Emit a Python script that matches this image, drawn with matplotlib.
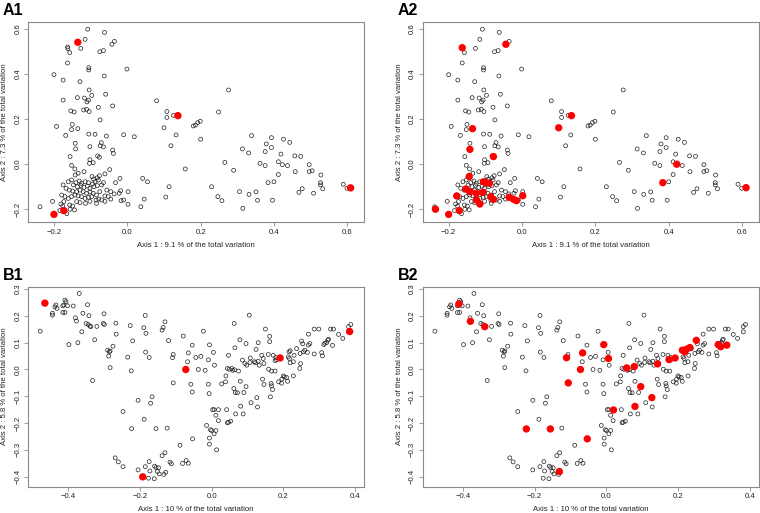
import matplotlib
matplotlib.use("Agg")
import matplotlib.pyplot as plt

plt.rcParams['font.family'] = ['Liberation Sans', 'DejaVu Sans']

# ---------------- data: PCoA of dataset A (shared by A1 and A2) ----------------
a_points = [
    (-0.108, 0.599), (-0.062, 0.585), (-0.115, 0.554), (-0.163, 0.520), (-0.162, 0.513), (-0.127, 0.514),
    (-0.035, 0.545), (-0.042, 0.532), (-0.065, 0.504), (-0.075, 0.499), (-0.157, 0.495), (-0.163, 0.449),
    (-0.105, 0.428), (-0.105, 0.418), (-0.001, 0.422), (-0.200, 0.397), (-0.063, 0.391), (-0.175, 0.373),
    (-0.129, 0.366), (-0.104, 0.329), (-0.097, 0.305), (-0.059, 0.310), (-0.136, 0.295), (-0.117, 0.293),
    (-0.106, 0.284), (-0.110, 0.276), (-0.175, 0.284), (0.080, 0.281), (-0.154, 0.236), (-0.145, 0.231),
    (-0.119, 0.240), (-0.111, 0.243), (-0.104, 0.233), (-0.079, 0.252), (-0.040, 0.258), (0.108, 0.233),
    (0.108, 0.207), (-0.074, 0.196), (-0.193, 0.167), (-0.150, 0.176), (-0.152, 0.153), (-0.135, 0.157),
    (0.100, 0.161), (-0.168, 0.127), (-0.105, 0.133), (-0.088, 0.132), (-0.057, 0.124), (-0.010, 0.130),
    (0.019, 0.121), (-0.142, 0.092), (-0.071, 0.095), (-0.074, 0.081), (-0.065, 0.076), (-0.102, 0.077),
    (-0.040, 0.062), (-0.038, 0.047), (-0.141, 0.067), (-0.156, 0.033), (-0.081, 0.036), (-0.076, 0.030),
    (-0.102, 0.019), (-0.093, 0.006), (-0.103, 0.003), (-0.152, -0.006), (-0.143, -0.022), (-0.048, -0.025),
    (-0.118, -0.034), (-0.134, -0.041), (-0.142, -0.049), (-0.061, -0.044), (-0.076, -0.052), (-0.082, -0.061),
    (-0.096, -0.056), (-0.092, -0.067), (-0.020, -0.064), (-0.032, -0.083), (0.042, -0.064), (0.055, -0.079),
    (0.002, -0.123), (-0.018, -0.119), (-0.022, -0.130), (-0.036, -0.133), (0.046, -0.156), (0.105, -0.147),
    (-0.010, -0.160), (-0.017, -0.163), (0.002, -0.179), (0.037, -0.190), (-0.204, -0.166), (-0.238, -0.190),
    (-0.184, -0.207), (-0.156, -0.201), (-0.144, -0.204), (-0.165, -0.221), (-0.181, -0.178), (-0.176, -0.187),
    (-0.157, -0.182), (-0.149, -0.187),
    (-0.161, -0.079), (-0.152, -0.071), (-0.140, -0.083), (-0.131, -0.076), (-0.125, -0.086), (-0.115, -0.079),
    (-0.106, -0.083), (-0.095, -0.089), (-0.088, -0.079), (-0.079, -0.071), (-0.065, -0.083), (-0.147, -0.093),
    (-0.136, -0.101), (-0.127, -0.095), (-0.118, -0.104), (-0.109, -0.098), (-0.102, -0.108), (-0.091, -0.101),
    (-0.082, -0.096), (-0.070, -0.093), (-0.175, -0.093), (-0.167, -0.108), (-0.158, -0.116), (-0.149, -0.120),
    (-0.138, -0.123), (-0.129, -0.116), (-0.120, -0.123), (-0.111, -0.130), (-0.102, -0.124), (-0.093, -0.130),
    (-0.084, -0.138), (-0.075, -0.123), (-0.061, -0.142), (-0.052, -0.145), (-0.045, -0.156), (-0.070, -0.160),
    (-0.078, -0.156), (-0.085, -0.160), (-0.097, -0.145), (-0.106, -0.148), (-0.115, -0.153), (-0.125, -0.145),
    (-0.134, -0.142), (-0.143, -0.138), (-0.152, -0.145), (-0.161, -0.153), (-0.170, -0.145), (-0.179, -0.138),
    (-0.173, -0.167), (-0.138, -0.167), (-0.129, -0.172), (-0.114, -0.175), (-0.102, -0.166), (-0.084, -0.175),
    (-0.061, -0.166), (-0.045, -0.123), (-0.056, -0.116),
    (0.126, 0.216), (0.133, 0.129), (0.119, 0.081), (0.158, -0.022), (0.114, -0.101), (0.276, 0.329),
    (0.249, 0.231), (0.180, 0.169), (0.186, 0.173), (0.192, 0.184), (0.199, 0.190), (0.200, 0.110),
    (0.230, -0.101), (0.266, 0.007), (0.290, -0.028), (0.247, -0.145), (0.258, -0.163), (0.306, -0.123),
    (0.315, -0.197), (0.332, -0.135), (0.351, -0.124), (0.355, -0.161), (0.314, 0.067), (0.331, 0.049),
    (0.339, 0.126), (0.362, 0.003), (0.376, -0.007), (0.376, 0.055), (0.379, 0.089), (0.393, 0.117),
    (0.393, 0.073), (0.396, -0.161), (0.384, -0.083), (0.400, -0.079), (0.412, -0.047), (0.412, 0.010),
    (0.423, -0.003), (0.437, -0.007), (0.419, 0.044), (0.426, 0.110), (0.443, 0.096), (0.457, 0.036),
    (0.473, 0.034), (0.458, -0.034), (0.496, -0.003), (0.496, -0.034), (0.504, -0.030), (0.468, -0.126),
    (0.477, -0.110), (0.508, -0.130), (0.528, -0.049), (0.527, -0.083), (0.527, -0.093), (0.533, -0.110),
    (0.589, -0.090), (0.599, -0.108),
]

a1_red = [(-0.135, 0.541), (0.138, 0.215), (-0.173, -0.207), (-0.200, -0.224), (0.609, -0.106)]

a2_red = [
    (-0.163, 0.517), (-0.044, 0.532), (-0.135, 0.157), (-0.142, 0.065), (-0.078, 0.033), (0.100, 0.161),
    (0.135, 0.215), (-0.236, -0.201), (-0.200, -0.224), (-0.171, -0.207), (-0.178, -0.142), (-0.153, -0.111),
    (-0.144, -0.056), (-0.142, -0.123), (-0.125, -0.130), (-0.124, -0.160), (-0.115, -0.178), (-0.107, -0.126),
    (-0.105, -0.079), (-0.098, -0.083), (-0.089, -0.086), (-0.085, -0.145), (-0.078, -0.157), (-0.035, -0.148),
    (-0.023, -0.157), (-0.015, -0.163), (0.002, -0.141), (0.422, -0.001), (0.384, -0.083), (0.611, -0.105),
]

# ---------------- data: PCoA of dataset B (shared by B1 and B2) ----------------
b_points = [
    (-0.478, 0.143), (-0.369, 0.284), (-0.409, 0.259), (-0.406, 0.253), (-0.434, 0.241), (-0.437, 0.234),
    (-0.431, 0.228), (-0.415, 0.238), (-0.412, 0.241), (-0.402, 0.238), (-0.386, 0.237), (-0.346, 0.242),
    (-0.444, 0.210), (-0.444, 0.203), (-0.415, 0.213), (-0.409, 0.213), (-0.380, 0.193), (-0.377, 0.181),
    (-0.359, 0.210), (-0.342, 0.201), (-0.350, 0.172), (-0.344, 0.168), (-0.339, 0.162), (-0.337, 0.160),
    (-0.320, 0.161), (-0.300, 0.208), (-0.302, 0.172), (-0.299, 0.168), (-0.267, 0.173), (-0.266, 0.132),
    (-0.362, 0.141), (-0.398, 0.093), (-0.373, 0.100), (-0.326, 0.111), (-0.275, 0.087), (-0.290, 0.072),
    (-0.285, 0.066), (-0.283, 0.069), (-0.287, 0.050), (-0.283, 0.007), (-0.332, -0.041), (-0.227, 0.164),
    (-0.220, 0.107), (-0.234, 0.046), (-0.224, -0.005), (-0.185, 0.202), (-0.189, 0.156), (-0.183, 0.135),
    (-0.184, 0.065), (-0.174, 0.045), (-0.130, 0.178), (-0.135, 0.157), (-0.138, 0.147), (-0.120, 0.108),
    (-0.107, 0.056), (-0.109, 0.044), (-0.079, 0.125), (-0.054, 0.091), (-0.065, 0.062), (-0.067, 0.029),
    (-0.044, 0.045), (-0.037, 0.000), (-0.107, -0.050), (-0.058, -0.055), (-0.054, -0.084), (-0.205, -0.115),
    (-0.166, -0.102), (-0.170, -0.126), (-0.247, -0.157), (-0.188, -0.186), (-0.223, -0.221), (-0.155, -0.221),
    (-0.124, -0.219), (-0.053, -0.259), (-0.088, -0.283), (-0.269, -0.330), (-0.260, -0.345), (-0.247, -0.363),
    (-0.205, -0.375), (-0.185, -0.363), (-0.174, -0.344), (-0.159, -0.361), (-0.155, -0.366), (-0.148, -0.367),
    (-0.172, -0.379), (-0.151, -0.381), (-0.146, -0.390), (-0.133, -0.392), (-0.128, -0.384), (-0.138, -0.322),
    (-0.130, -0.311), (-0.116, -0.346), (-0.112, -0.352), (-0.160, -0.408), (-0.176, -0.406), (-0.081, -0.351),
    (-0.071, -0.340), (-0.065, -0.350),
    (-0.023, 0.143), (-0.006, 0.092), (0.005, 0.064), (-0.030, 0.049), (-0.009, 0.036), (0.008, 0.016),
    (-0.018, -0.003), (-0.009, -0.055), (-0.007, -0.090), (0.003, -0.150), (0.007, -0.150), (0.019, -0.150),
    (0.012, -0.171), (0.019, -0.191), (-0.014, -0.209), (-0.003, -0.225), (0.000, -0.228), (0.012, -0.228),
    (0.007, -0.240), (-0.006, -0.256), (-0.006, -0.279), (0.014, -0.300), (0.042, -0.150), (0.044, -0.199),
    (0.047, -0.197), (0.053, -0.193), (0.067, -0.166), (0.081, -0.137), (0.088, -0.166), (0.110, -0.124),
    (0.128, -0.140), (0.126, -0.105), (0.164, -0.102), (0.028, -0.054), (0.039, -0.046), (0.062, -0.071),
    (0.066, -0.086), (0.072, -0.087), (0.090, -0.086), (0.096, -0.064), (0.080, -0.044), (0.064, -0.001),
    (0.040, -0.024), (0.044, 0.004), (0.049, 0.001), (0.056, 0.004), (0.059, -0.003), (0.075, -0.006),
    (0.047, 0.053), (0.065, 0.081), (0.063, 0.172), (0.105, 0.203), (0.079, 0.111), (0.096, 0.097),
    (0.086, 0.035), (0.093, 0.022), (0.098, 0.016), (0.108, 0.043), (0.107, 0.026), (0.119, 0.029),
    (0.122, 0.025), (0.130, 0.031), (0.133, 0.016), (0.124, 0.075), (0.130, 0.100), (0.140, 0.053),
    (0.144, 0.041), (0.150, 0.151), (0.162, 0.124), (0.162, 0.104), (0.158, 0.056), (0.146, 0.022),
    (0.159, 0.001), (0.167, -0.006), (0.177, -0.006), (0.142, -0.036), (0.146, -0.056), (0.166, -0.052),
    (0.167, -0.061), (0.170, -0.075), (0.187, -0.046), (0.195, -0.051), (0.196, -0.036), (0.203, -0.028),
    (0.212, -0.044), (0.172, 0.053), (0.177, 0.033), (0.181, 0.037), (0.179, 0.045), (0.200, -0.024),
    (0.209, -0.030), (0.216, 0.066), (0.219, 0.070), (0.214, 0.047), (0.217, 0.041), (0.228, 0.029),
    (0.219, 0.025), (0.230, 0.053), (0.237, 0.078), (0.247, 0.060), (0.256, 0.066), (0.260, 0.072),
    (0.251, 0.106), (0.254, 0.096), (0.267, 0.064), (0.270, 0.091), (0.274, 0.097), (0.248, 0.022),
    (0.246, 0.004), (0.228, -0.024), (0.286, 0.058), (0.270, 0.132), (0.286, 0.151), (0.299, 0.151),
    (0.307, 0.063), (0.309, 0.051), (0.313, 0.093), (0.316, 0.098), (0.321, 0.101), (0.324, 0.110),
    (0.326, 0.113), (0.337, 0.090), (0.332, 0.151), (0.340, 0.151), (0.354, 0.131), (0.366, 0.116),
    (0.382, 0.160), (0.388, 0.168), (0.382, 0.141),
]

b1_red = [(-0.465, 0.248), (-0.072, 0.000), (-0.192, -0.401), (0.191, 0.043), (0.385, 0.142)]

b2_red = [
    (-0.411, 0.245), (-0.379, 0.180), (-0.339, 0.160), (-0.111, 0.044), (-0.066, 0.062), (-0.072, 0.000),
    (-0.106, -0.050), (-0.223, -0.222), (-0.156, -0.222), (-0.053, -0.259), (-0.131, -0.381),
    (-0.007, 0.093), (0.006, 0.041), (0.020, -0.151), (0.057, 0.006), (0.078, 0.011), (0.080, -0.138),
    (0.096, -0.064), (0.127, -0.105), (0.143, 0.021), (0.175, 0.037), (0.192, 0.043), (0.212, 0.072),
    (0.219, 0.066), (0.224, 0.076), (0.233, 0.082), (0.251, 0.109), (0.312, 0.093), (0.319, 0.085),
    (0.336, 0.091),
]

panel_titles = ["A1", "A2", "B1", "B2"]
a_xlabel = "Axis 1 : 9.1 % of the total variation"
a_ylabel = "Axis 2 : 7.3 % of the total variation"
b_xlabel = "Axis 1 : 10 % of the total variation"
b_ylabel = "Axis 2 : 5.8 % of the total variation"
a_xticks = [-0.2, 0.0, 0.2, 0.4, 0.6]
a_yticks = [-0.2, 0.0, 0.2, 0.4, 0.6]
b_xticks = [-0.4, -0.2, 0.0, 0.2, 0.4]
b_yticks = [-0.4, -0.3, -0.2, -0.1, 0.0, 0.1, 0.2, 0.3]

# ---------------- drawing ----------------
W, H = 760, 513
fig = plt.figure(figsize=(W / 100, H / 100), dpi=100)

def fx(px):
    return px / W

def fy(py):
    return 1 - py / H

box_w = 336
box_h = 200
lefts = [28, 422.7]
tops = [22, 286.5]

GRAY = "#8a8a8a"
FS = 5.6

def fmt(v):
    s = "%.1f" % v
    if s.startswith("-"):
        s = "\u2212" + s[1:]
    if s == "\u22120.0":
        s = "0.0"
    return s

def make_panel(col, row, pts, red, xticks, yticks, xlim, ylim, xlabel, ylabel, title):
    l = lefts[col]
    t = tops[row]
    ax = fig.add_axes([fx(l), fy(t + box_h), box_w / W, box_h / H])
    xs, ys = zip(*pts)
    ax.scatter(xs, ys, s=8, facecolors="none", edgecolors="#222222", linewidths=0.5, zorder=2)
    rx, ry = zip(*red)
    ax.scatter(rx, ry, s=28, color="#ff0000", edgecolors="none", zorder=3)
    ax.set_xlim(*xlim)
    ax.set_ylim(*ylim)
    ax.set_xticks(xticks)
    ax.set_xticklabels([fmt(v) for v in xticks])
    ax.set_yticks(yticks)
    ax.set_yticklabels([fmt(v) for v in yticks], rotation=90, va="center", ha="right")
    for sp in ax.spines.values():
        sp.set_color(GRAY)
        sp.set_linewidth(0.8)
    ax.tick_params(length=2.6, width=0.6, color=GRAY, labelsize=FS, pad=2.2, labelcolor="#222222")
    ax.set_xlabel(xlabel, fontsize=FS, labelpad=4.5, color="#222222")
    ax.set_ylabel(ylabel, fontsize=FS, labelpad=4.5, color="#222222")
    fig.text(fx(l - 25), fy(t - 19), title, fontsize=11.5, fontweight="bold", ha="left", va="top")
    return ax

a_xlim = (-0.2708, 0.6455)
a_ylim = (-0.2578, 0.6311)
b_xlim = (-0.512, 0.425)
b_ylim = (-0.437, 0.310)

make_panel(0, 0, a_points, a1_red, a_xticks, a_yticks, a_xlim, a_ylim, a_xlabel, a_ylabel, panel_titles[0])
make_panel(1, 0, a_points, a2_red, a_xticks, a_yticks, a_xlim, a_ylim, a_xlabel, a_ylabel, panel_titles[1])
make_panel(0, 1, b_points, b1_red, b_xticks, b_yticks, b_xlim, b_ylim, b_xlabel, b_ylabel, panel_titles[2])
make_panel(1, 1, b_points, b2_red, b_xticks, b_yticks, b_xlim, b_ylim, b_xlabel, b_ylabel, panel_titles[3])

fig.savefig("out.png", dpi=100)
